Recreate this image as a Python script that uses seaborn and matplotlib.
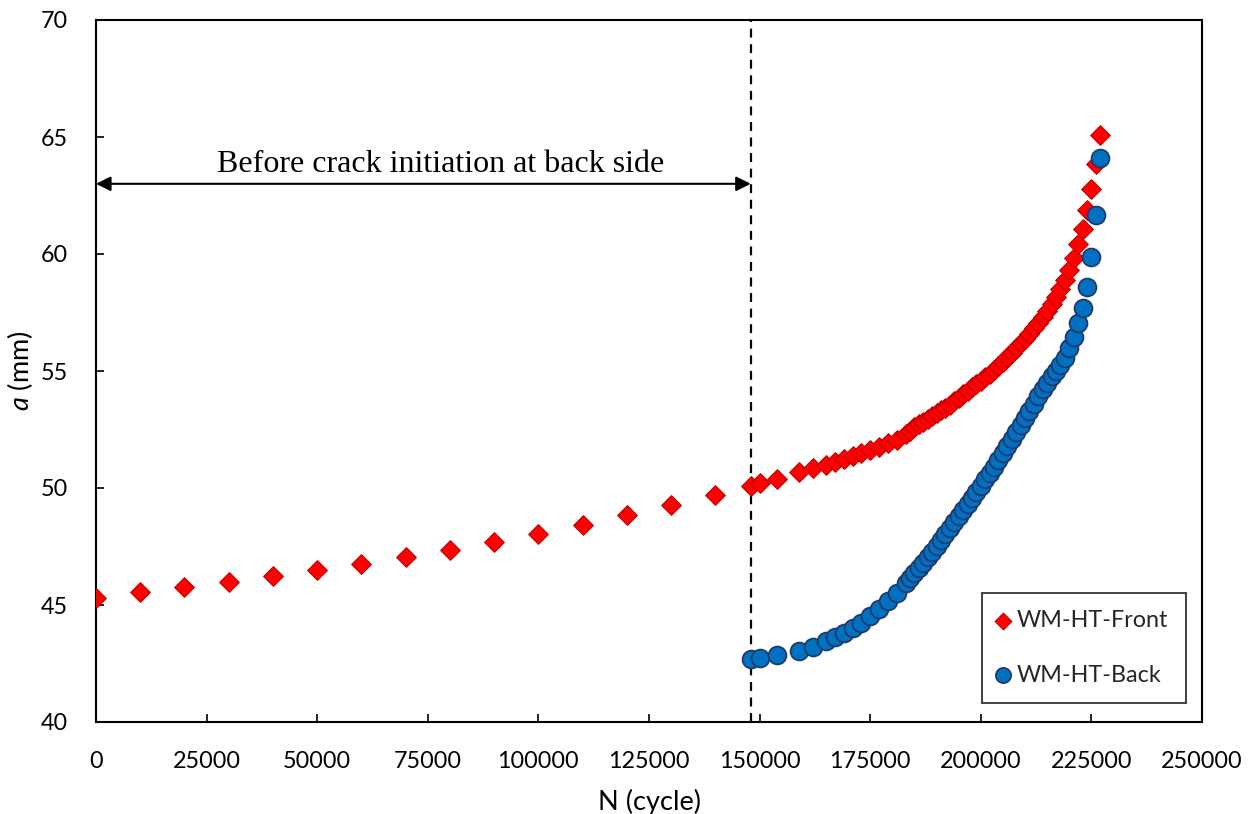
import numpy as np
import pandas as pd
import matplotlib
matplotlib.use("Agg")
import matplotlib.pyplot as plt
import seaborn as sns

# ---------------- data ----------------
front_N = [0, 10000, 20000, 30000, 40000, 50000, 60000, 70000, 80000, 90000,
           100000, 110000, 120000, 130000, 140000, 148000, 150000, 154000,
           159000, 162000, 165000, 167000, 169000, 171000, 173000, 175000,
           177000, 179000, 181000, 183000,
           184000, 185000, 186000, 187000, 188000, 189000, 190000, 191000,
           192000, 193000, 194000, 195000, 196000, 197000, 198000, 199000,
           200000, 201000, 202000, 203000, 204000, 205000, 206000, 207000,
           208000, 209000, 210000, 211000, 212000, 213000, 214000, 215000,
           216000, 217000, 218000, 219000, 220000, 221000, 222000, 223000,
           224000, 225000, 226000, 227000]
front_a = [45.30, 45.54, 45.77, 45.98, 46.22, 46.48, 46.75, 47.05, 47.36, 47.69,
           48.04, 48.43, 48.83, 49.26, 49.72, 50.10, 50.20, 50.40,
           50.68, 50.84, 50.98, 51.09, 51.23, 51.37, 51.50, 51.63,
           51.77, 51.92, 52.07, 52.29,
           52.45, 52.60, 52.72, 52.83, 52.95, 53.07, 53.20, 53.32,
           53.44, 53.56, 53.70, 53.85, 54.00, 54.15, 54.30, 54.45,
           54.58, 54.73, 54.88, 55.03, 55.20, 55.40, 55.60, 55.78,
           55.98, 56.18, 56.38, 56.60, 56.83, 57.05, 57.30, 57.58,
           57.86, 58.16, 58.50, 58.89, 59.32, 59.84, 60.41, 61.07,
           61.88, 62.76, 63.85, 65.09]

back_N = [148000, 150000, 154000, 159000, 162000, 165000, 167000, 169000,
          171000, 173000, 175000, 177000, 179000, 181000, 183000,
          184000, 185000, 186000, 187000, 188000, 189000, 190000, 191000,
          192000, 193000, 194000, 195000, 196000, 197000, 198000, 199000,
          200000, 201000, 202000, 203000, 204000, 205000, 206000, 207000,
          208000, 209000, 210000, 211000, 212000, 213000, 214000, 215000,
          216000, 217000, 218000, 219000, 220000, 221000, 222000, 223000,
          224000, 225000, 226000, 227000]
back_a = [42.68, 42.75, 42.85, 43.05, 43.22, 43.46, 43.62, 43.79,
          44.00, 44.24, 44.53, 44.81, 45.17, 45.53, 45.93,
          46.15, 46.35, 46.58, 46.81, 47.04, 47.27, 47.52, 47.77,
          48.02, 48.27, 48.53, 48.79, 49.05, 49.31, 49.57, 49.83,
          50.10, 50.37, 50.62, 50.90, 51.20, 51.50, 51.80, 52.10,
          52.40, 52.70, 53.00, 53.30, 53.60, 53.92, 54.22, 54.50,
          54.78, 55.02, 55.25, 55.54, 55.97, 56.44, 57.03, 57.70,
          58.60, 59.86, 61.65, 64.09]

series_labels = ["WM-HT-Front", "WM-HT-Back"]
x_ticks = [0, 25000, 50000, 75000, 100000, 125000, 150000, 175000, 200000, 225000, 250000]
y_ticks = [40, 45, 50, 55, 60, 65, 70]
initiation_N = 148000
arrow_a = 63
annotation_text = "Before crack initiation at back side"
annotation_x = 78000

# ---------------- style ----------------
sns.set_theme(style="white")
plt.rcParams["font.family"] = ["Lato", "DejaVu Sans"]
plt.rcParams["mathtext.fontset"] = "custom"
plt.rcParams["mathtext.it"] = "Lato:italic"
plt.rcParams["mathtext.rm"] = "Lato"

fig = plt.figure(figsize=(12.52, 8.14), dpi=100)
ax = fig.add_axes([96 / 1252, 1 - 722 / 814, (1202 - 96) / 1252, (722 - 20) / 814])

df_front = pd.DataFrame({"N": front_N, "a": front_a})
df_back = pd.DataFrame({"N": back_N, "a": back_a})

sns.scatterplot(data=df_front, x="N", y="a", ax=ax, marker="D", s=100,
                color="#FF0000", edgecolor="#C00000", linewidth=0.8,
                label=series_labels[0], zorder=3)
sns.scatterplot(data=df_back, x="N", y="a", ax=ax, marker="o", s=165,
                color="#0070C0", edgecolor="#1F3A6E", linewidth=1.3,
                label=series_labels[1], zorder=4)

ax.axvline(initiation_N, color="black", lw=1.6, ls=(0, (4, 3)), zorder=2)

ax.annotate("", xy=(0, arrow_a), xytext=(initiation_N, arrow_a),
            arrowprops=dict(arrowstyle="<|-|>", color="black", lw=1.5,
                            mutation_scale=22, shrinkA=0, shrinkB=0))
ax.text(annotation_x, arrow_a + 0.2, annotation_text, ha="center", va="bottom",
        fontsize=23, family=["Liberation Serif", "DejaVu Serif"], color="black")

ax.set_xlim(0, 250000)
ax.set_ylim(40, 70)
ax.set_xticks(x_ticks)
ax.set_yticks(y_ticks)
ax.set_xticklabels([str(t) for t in x_ticks])
ax.set_yticklabels([str(t) for t in y_ticks])
ax.tick_params(direction="in", length=6, width=1.2, colors="black",
               labelsize=16.8, bottom=True, left=True)
ax.tick_params(axis="x", pad=21)
ax.tick_params(axis="y", pad=20)
for sp in ax.spines.values():
    sp.set_color("black")
    sp.set_linewidth(1.5)

ax.set_xlabel("N (cycle)", fontsize=19.5, color="black", labelpad=12)
ax.set_ylabel(r"$\mathit{a}$ (mm)", fontsize=19.5, color="black", labelpad=4)

leg = ax.legend(loc="lower right", bbox_to_anchor=(0.9855, 0.027), frameon=True,
                borderaxespad=0, fontsize=16.8, handletextpad=0.45, borderpad=0.75,
                labelspacing=1.42, handlelength=0.3, fancybox=False, markerscale=0.85)
leg.get_frame().set_edgecolor("black")
leg.get_frame().set_linewidth(1.3)

fig.savefig("out.png", dpi=100)
